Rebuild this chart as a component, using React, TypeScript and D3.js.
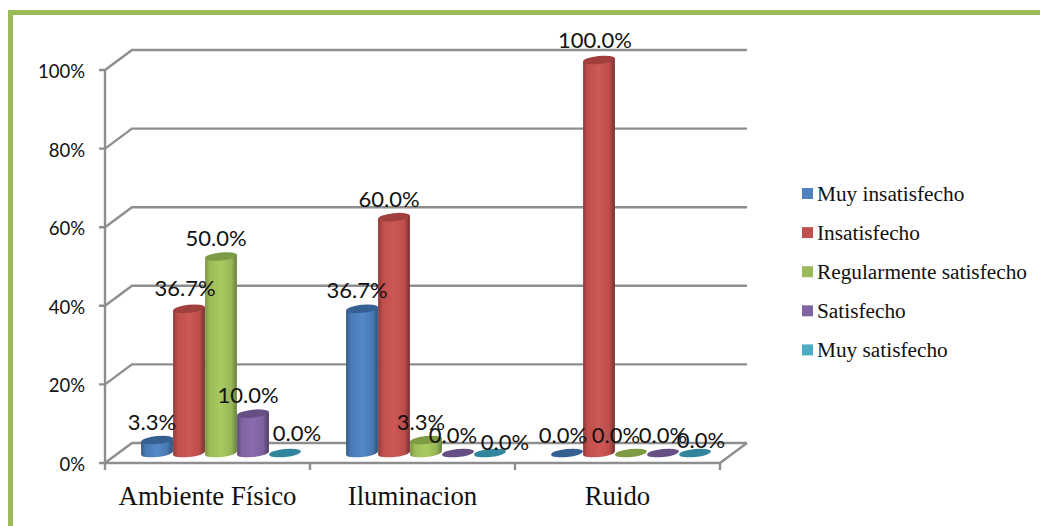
import React from "react";
import * as d3 from "d3";

// Survey results: share of answers per satisfaction level, by workplace factor.
const categories = ["Ambiente Físico", "Iluminacion", "Ruido"];
const seriesNames = [
  "Muy insatisfecho",
  "Insatisfecho",
  "Regularmente satisfecho",
  "Satisfecho",
  "Muy satisfecho",
];
const muyInsatisfecho = [3.3, 36.7, 0];
const insatisfecho = [36.7, 60, 100];
const regularmente = [50, 3.3, 0];
const satisfecho = [10, 0, 0];
const muySatisfecho = [0, 0, 0];
const seriesValues = [muyInsatisfecho, insatisfecho, regularmente, satisfecho, muySatisfecho];
const yTicks = [0, 20, 40, 60, 80, 100];

// Cylinder shading per series: side gradient stops, lid colour and legend swatch.
const sideStops = [
  ["#345a88", "#4a7ab5", "#5489ca", "#4a79b3", "#2f5078"],
  ["#8f3a38", "#c04f4c", "#cd5855", "#bd4e4b", "#713331"],
  ["#7b9546", "#9cbc59", "#a8ca60", "#98b757", "#66803c"],
  ["#5f4a79", "#8063a1", "#8a6bae", "#7d619e", "#4c3b60"],
  ["#31859c", "#4bacc6", "#4bacc6", "#4bacc6", "#31859c"],
];
const lidColors = ["#376092", "#a03f3c", "#7d9a45", "#664f84", "#31859c"];
const swatchColors = ["#4f81bd", "#c0504d", "#9bbb59", "#8064a2", "#4bacc6"];

// Hand-placed value labels: offset of each label from the top of its cylinder.
const labelNudge: [number, number][][] = [
  [[-5, -19], [-4, -21], [-5, -19], [-5, -19], [12, -21]],
  [[-5, -19], [-5, -19], [-5, -19], [-5, -19], [15, -12]],
  [[-4, -19], [-4, -21], [-15, -19], [0, -19], [6, -14]],
];

const WIDTH = 1040;
const HEIGHT = 526;
const plot = { left: 105, right: 720, top: 70, bottom: 463 };
const depth = { x: 27, y: -20 };
const GRID = "#8e8e8e";
const TILT = -6;

const y = d3.scaleLinear().domain([0, 100]).range([plot.bottom, plot.top]);
const x0 = d3.scaleBand<string>().domain(categories).range([plot.left, plot.right]);
const BAR_W = 32;
const x1 = d3
  .scaleBand<number>()
  .domain(d3.range(seriesNames.length))
  .range([0, BAR_W * seriesNames.length]);

const rx = BAR_W / 2;
const ry = 4;
const cosT = Math.cos((TILT * Math.PI) / 180);
const sinT = Math.sin((TILT * Math.PI) / 180);

function cylinderSide(cx: number, top: number, base: number) {
  const dx = rx * cosT;
  const dy = rx * sinT;
  return (
    `M${cx - dx},${top - dy}L${cx - dx},${base - dy}` +
    `A${rx},${ry} ${TILT} 0 0 ${cx + dx},${base + dy}` +
    `L${cx + dx},${top + dy}Z`
  );
}

const gridLine = d3
  .line<[number, number]>()
  .x((d) => d[0])
  .y((d) => d[1]);

export default function App() {
  const sans = "Lato, 'Open Sans', sans-serif";
  const serif = "'Liberation Serif', serif";
  return (
    <svg
      width={WIDTH}
      height={HEIGHT}
      viewBox={`0 0 ${WIDTH} ${HEIGHT}`}
      style={{ position: "absolute", left: 0, top: 0, background: "#fff" }}
    >
      <defs>
        {sideStops.map((stops, i) => (
          <linearGradient key={i} id={`side-${i}`} x1="0" x2="1" y1="0" y2="0">
            {stops.map((c, j) => (
              <stop key={j} offset={[0, 0.15, 0.5, 0.82, 1][j]} stopColor={c} />
            ))}
          </linearGradient>
        ))}
      </defs>

      {/* page frame */}
      <rect x={8} y={10} width={WIDTH - 8} height={5} fill="#9bbb59" />
      <rect x={8} y={10} width={5} height={HEIGHT - 10} fill="#9bbb59" />

      {/* walls and gridlines */}
      <g fill="none" stroke={GRID} strokeWidth={2.4}>
        {yTicks.map((t) => (
          <path
            key={t}
            d={
              gridLine([
                [plot.left - 6, y(t)],
                [plot.left, y(t)],
                [plot.left + depth.x, y(t) + depth.y],
                [plot.right + depth.x, y(t) + depth.y],
              ]) ?? ""
            }
          />
        ))}
        <path d={`M${plot.left},${plot.top}V${plot.bottom + 7}`} />
        <path
          d={
            gridLine([
              [plot.left, plot.bottom],
              [plot.right, plot.bottom],
              [plot.right + depth.x, plot.bottom + depth.y],
            ]) ?? ""
          }
        />
        {categories.map((c) => (
          <path
            key={c}
            d={`M${(x0(c) ?? 0) + x0.bandwidth()},${plot.bottom}v7`}
          />
        ))}
      </g>

      {/* y axis labels */}
      <g fontFamily={sans} fontSize={18.5} fill="#111" textAnchor="end">
        {yTicks.map((t) => (
          <text key={t} x={85} y={y(t) + 1} dominantBaseline="central">
            {t}%
          </text>
        ))}
      </g>

      {/* cylinders */}
      {categories.map((c, ci) => {
        const groupLeft =
          (x0(c) ?? 0) + depth.x / 2 + (x0.bandwidth() - BAR_W * seriesNames.length) / 2;
        return (
          <g key={c}>
            {seriesValues.map((vals, si) => {
              const cx = groupLeft + (x1(si) ?? 0) + x1.bandwidth() / 2;
              const top = y(vals[ci]) + depth.y / 2;
              const base = y(0) + depth.y / 2;
              return (
                <g key={si}>
                  {vals[ci] > 0 && (
                    <path d={cylinderSide(cx, top, base)} fill={`url(#side-${si})`} />
                  )}
                  <ellipse
                    cx={cx}
                    cy={top}
                    rx={rx}
                    ry={ry}
                    fill={lidColors[si]}
                    transform={`rotate(${TILT} ${cx} ${top})`}
                  />
                </g>
              );
            })}
          </g>
        );
      })}

      {/* value labels */}
      <g fontFamily={sans} fontSize={22} fill="#111" textAnchor="middle">
        {categories.map((c, ci) => {
          const groupLeft =
            (x0(c) ?? 0) + depth.x / 2 + (x0.bandwidth() - BAR_W * seriesNames.length) / 2;
          return seriesValues.map((vals, si) => {
            const cx = groupLeft + (x1(si) ?? 0) + x1.bandwidth() / 2;
            const top = y(vals[ci]) + depth.y / 2;
            const [dx, dy] = labelNudge[ci][si];
            return (
              <text
                key={`${c}-${si}`}
                x={cx + dx}
                y={top + dy}
                dominantBaseline="central"
              >
                {d3.format(".1f")(vals[ci])}%
              </text>
            );
          });
        })}
      </g>

      {/* category labels */}
      <g fontFamily={serif} fontSize={26.8} fill="#111" textAnchor="middle">
        {categories.map((c) => (
          <text key={c} x={(x0(c) ?? 0) + x0.bandwidth() / 2} y={505}>
            {c}
          </text>
        ))}
      </g>

      {/* legend */}
      <g fontFamily={serif} fontSize={21.3} fill="#111">
        {seriesNames.map((name, i) => {
          const cy = 193.5 + i * 39.1;
          return (
            <g key={name}>
              <rect x={802} y={cy - 5.5} width={11} height={11} fill={swatchColors[i]} />
              <text x={817} y={cy} dominantBaseline="central">
                {name}
              </text>
            </g>
          );
        })}
      </g>
    </svg>
  );
}
